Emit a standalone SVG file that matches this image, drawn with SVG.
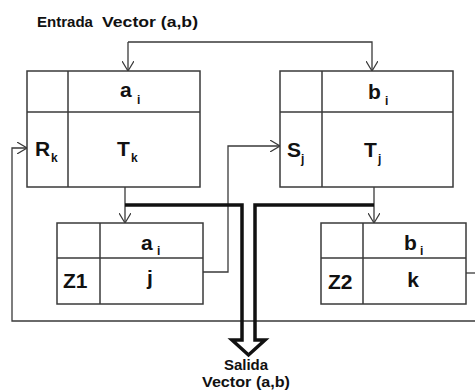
<svg xmlns="http://www.w3.org/2000/svg" width="475" height="392" viewBox="0 0 475 392">
<style>
.box{fill:none;stroke:#3a3a3a;stroke-width:1.5}
.ln{fill:none;stroke:#3a3a3a;stroke-width:1.3}
.thick{fill:none;stroke:#111;stroke-width:3.5;stroke-linejoin:miter}
.t{font-family:"Liberation Sans",Arial,sans-serif;font-weight:bold;fill:#111}
.big{font-size:21px}
.sub{font-size:12px}
.cap{font-size:15px}
</style>
<defs>
<marker id="arr" viewBox="0 0 10 12" refX="10" refY="6" markerWidth="10" markerHeight="12" markerUnits="userSpaceOnUse" orient="auto">
<path d="M0,0 L10,6 L0,12" fill="none" stroke="#3a3a3a" stroke-width="1.2"/>
</marker>
</defs>
<rect width="475" height="392" fill="#fff"/>
<g id="labels-io">
<text class="t cap" x="37" y="27" textLength="56" lengthAdjust="spacingAndGlyphs">Entrada</text>
<text class="t cap" x="102" y="27" textLength="96" lengthAdjust="spacingAndGlyphs">Vector (a,b)</text>
<text class="t cap" x="246" y="370" text-anchor="middle">Salida</text>
<text class="t cap" x="246" y="387" text-anchor="middle" textLength="88" lengthAdjust="spacingAndGlyphs">Vector (a,b)</text>
</g>
<g id="nodeA">
<rect class="box" x="27" y="71" width="173" height="116"/>
<line class="box" x1="68" y1="71" x2="68" y2="187"/>
<line class="box" x1="27" y1="112" x2="200" y2="112"/>
<text class="t big" x="120" y="97">a</text><text class="t sub" x="137" y="104">i</text>
<text class="t big" x="35" y="156">R</text><text class="t sub" x="51" y="162">k</text>
<text class="t big" x="117" y="156">T</text><text class="t sub" x="131" y="162">k</text>
</g>
<g id="nodeB">
<rect class="box" x="280" y="71" width="173" height="116"/>
<line class="box" x1="322" y1="71" x2="322" y2="187"/>
<line class="box" x1="280" y1="112" x2="453" y2="112"/>
<text class="t big" x="368" y="99">b</text><text class="t sub" x="385" y="105">i</text>
<text class="t big" x="287" y="157">S</text><text class="t sub" x="301" y="163">j</text>
<text class="t big" x="364" y="157">T</text><text class="t sub" x="378" y="163">j</text>
</g>
<g id="nodeZ1">
<rect class="box" x="57" y="223" width="146" height="81"/>
<line class="box" x1="100" y1="223" x2="100" y2="304"/>
<line class="box" x1="57" y1="258" x2="203" y2="258"/>
<text class="t big" x="141" y="250">a</text><text class="t sub" x="157" y="255">i</text>
<text class="t big" x="63" y="288">Z1</text>
<text class="t big" x="150" y="285" text-anchor="middle">j</text>
</g>
<g id="nodeZ2">
<rect class="box" x="321" y="223" width="145" height="81"/>
<line class="box" x1="363" y1="223" x2="363" y2="304"/>
<line class="box" x1="321" y1="258" x2="466" y2="258"/>
<text class="t big" x="404" y="250">b</text><text class="t sub" x="420" y="255">i</text>
<text class="t big" x="328" y="289">Z2</text>
<text class="t big" x="413" y="287" text-anchor="middle">k</text>
</g>
<g id="connectors">
<path class="ln" d="M128,42 V71" marker-end="url(#arr)"/>
<path class="ln" d="M128,42 H372 V71" marker-end="url(#arr)"/>
<path class="ln" d="M125,187 V223" marker-end="url(#arr)"/>
<path class="ln" d="M374,187 V223" marker-end="url(#arr)"/>
<path class="ln" d="M203,272 H228 V146 H280" marker-end="url(#arr)"/>
<path class="ln" d="M466,273 H475"/>
<path class="ln" d="M475,321 H12 V148 H27" marker-end="url(#arr)"/>
<path class="thick" d="M125,205 H242 V340 H232 L248.5,355 L265,340 H255 V205 H374"/>
</g>
</svg>
